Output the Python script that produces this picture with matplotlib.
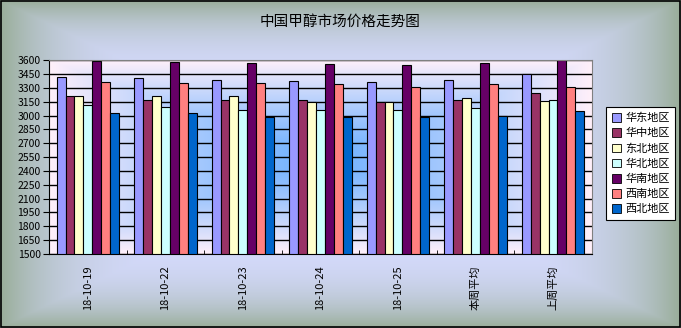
import matplotlib.pyplot as plt
import numpy as np
from matplotlib.patches import Rectangle, Patch

plt.rcParams['font.family'] = ['Noto Sans CJK SC', 'DejaVu Sans']

dates = ['18-10-19', '18-10-22', '18-10-23', '18-10-24', '18-10-25', '本周平均', '上周平均']
regions = ['华东地区', '华中地区', '东北地区', '华北地区', '华南地区', '西南地区', '西北地区']
colors = ['#9999FF', '#993366', '#FFFFCC', '#CCFFFF', '#660066', '#FF8080', '#0066CC']

huadong = [3420, 3405, 3385, 3375, 3365, 3385, 3450]
huazhong = [3210, 3170, 3170, 3170, 3150, 3170, 3245]
dongbei = [3210, 3210, 3215, 3150, 3150, 3195, 3160]
huabei = [3115, 3095, 3065, 3065, 3065, 3085, 3170]
huanan = [3590, 3580, 3570, 3555, 3545, 3570, 3600]
xinan = [3365, 3355, 3355, 3345, 3310, 3345, 3310]
xibei = [3030, 3030, 2990, 2990, 2990, 3000, 3055]
series = [huadong, huazhong, dongbei, huabei, huanan, xinan, xibei]

yticks = np.arange(1500, 3601, 150)


def center_gradient(c_in, c_out, nx, ny, power):
    u = np.abs(np.linspace(-1, 1, nx))[None, :]
    v = np.abs(np.linspace(-1, 1, ny))[:, None]
    t = np.maximum(u, v) ** power
    c_in = np.array(c_in)[None, None, :]
    c_out = np.array(c_out)[None, None, :]
    return c_in + (c_out - c_in) * t[:, :, None]


fig = plt.figure(figsize=(6.81, 3.28), dpi=100)

# chart area background
bg = fig.add_axes([0, 0, 1, 1], zorder=-1)
bg.imshow(center_gradient((0.84, 0.86, 1.0), (0.60, 0.68, 0.60), 400, 200, 5),
          aspect='auto', extent=[0, 1, 0, 1])
bg.axis('off')
fig.patches.append(Rectangle((0.001, 0.002), 0.997, 0.995, transform=fig.transFigure,
                             fill=False, edgecolor='black', lw=1.2))

ax = fig.add_axes([0.072, 0.2256, 0.797, 0.5905])
ax.imshow(center_gradient((0.45, 0.70, 1.0), (1.0, 0.94, 0.98), 300, 200, 1.3),
          aspect='auto', extent=[0, 1, 0, 1], transform=ax.transAxes, zorder=0)

x = np.arange(len(dates))
w = 0.115
for i, (vals, name, col) in enumerate(zip(series, regions, colors)):
    ax.bar(x + (i - 3) * w, vals, w, color=col, edgecolor='black', lw=0.8,
           label=name, zorder=2)

ax.set_xlim(-0.5, len(dates) - 0.5)
ax.set_ylim(1500, 3600)
ax.set_yticks(yticks)
ax.yaxis.grid(True, color='black', lw=1)
ax.set_axisbelow(True)
ax.tick_params(axis='y', direction='out', length=4, labelsize=7.5, pad=2)
ax.set_xticks(x)
ax.set_xticklabels(dates, rotation=90, fontsize=8)
ax.tick_params(axis='x', length=0, pad=8)
ax.set_xticks(np.arange(0.5, len(dates) - 1, 1), minor=True)
ax.tick_params(axis='x', which='minor', direction='in', length=3)
ax.spines['top'].set_color('#808080')
ax.spines['right'].set_color('#808080')

fig.text(0.5, 1 - 22 / 328, '中国甲醇市场价格走势图', ha='center', va='center', fontsize=10.5)

handles = [Patch(facecolor=c, edgecolor='black', lw=0.6) for c in colors]
leg = fig.legend(handles, regions, loc='upper left', bbox_to_anchor=(0.882, 0.69),
                 fontsize=8, handlelength=0.8, handleheight=0.8, handletextpad=0.4,
                 labelspacing=0.45, borderpad=0.5, fancybox=False, framealpha=1,
                 edgecolor='black', facecolor='white')
leg.get_frame().set_linewidth(0.8)

fig.savefig('out.png', dpi=100)
